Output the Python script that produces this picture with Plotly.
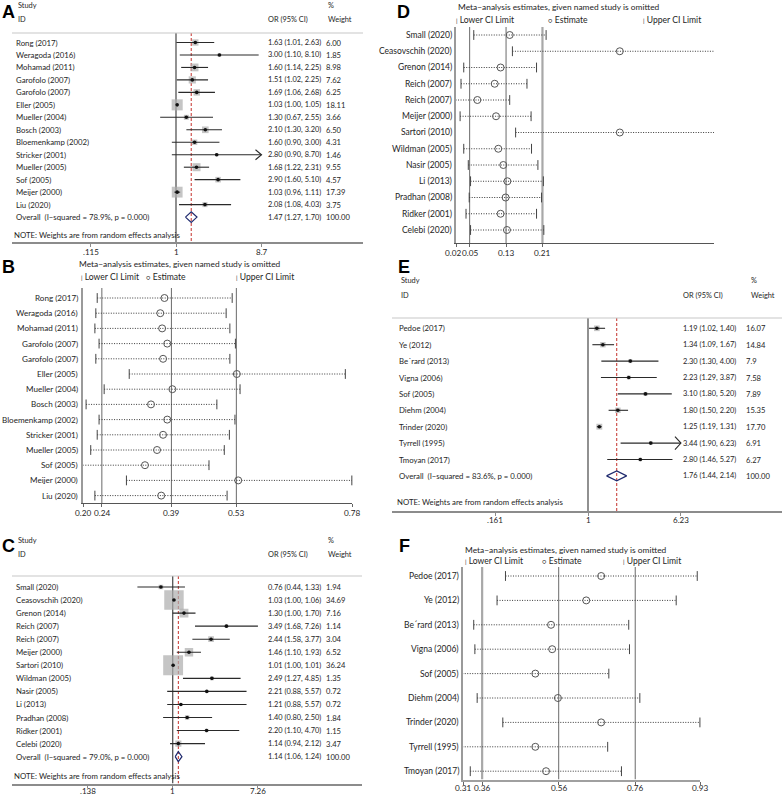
import numpy as np
import plotly.graph_objects as go

W, H = 784, 796
FONT = "Lato"

# ---------------- Panel A (forest) ----------------
A_names = ["Rong (2017)", "Weragoda (2016)", "Mohamad (2011)", "Garofolo (2007)", "Garofolo (2007)",
           "Eller (2005)", "Mueller (2004)", "Bosch (2003)", "Bloemenkamp (2002)", "Stricker (2001)",
           "Mueller (2005)", "Sof (2005)", "Meijer (2000)", "Liu (2020)"]
A_or = [1.63, 3.00, 1.60, 1.51, 1.69, 1.03, 1.30, 2.10, 1.60, 2.80, 1.68, 2.90, 1.03, 2.08]
A_lo = [1.01, 1.10, 1.14, 1.02, 1.06, 1.00, 0.67, 1.30, 0.90, 0.90, 1.22, 1.60, 0.96, 1.08]
A_hi = [2.63, 8.10, 2.25, 2.25, 2.68, 1.05, 2.55, 3.20, 3.00, 8.70, 2.31, 5.10, 1.11, 4.03]
A_w = [6.00, 1.85, 8.98, 7.62, 6.25, 18.11, 3.66, 6.50, 4.31, 1.46, 9.55, 4.57, 17.39, 3.75]
A_trunc = [False] * 9 + [True] + [False] * 4
A_overall = [1.47, 1.27, 1.70]
A_het = "Overall  (I\u2212squared = 78.9%, p = 0.000)"
A_ticks = [0.115, 1, 8.7]
A_ticktext = [".115", "1", "8.7"]

# ---------------- Panel C (forest) ----------------
C_names = ["Small (2020)", "Ceasovschih (2020)", "Grenon (2014)", "Reich (2007)", "Reich (2007)",
           "Meijer (2000)", "Sartori (2010)", "Wildman (2005)", "Nasir (2005)", "Li (2013)",
           "Pradhan (2008)", "Ridker (2001)", "Celebi (2020)"]
C_or = [0.76, 1.03, 1.30, 3.49, 2.44, 1.46, 1.01, 2.49, 2.21, 1.21, 1.40, 2.20, 1.14]
C_lo = [0.44, 1.00, 1.00, 1.68, 1.58, 1.10, 1.00, 1.27, 0.88, 0.88, 0.80, 1.10, 0.94]
C_hi = [1.33, 1.06, 1.70, 7.26, 3.77, 1.93, 1.01, 4.85, 5.57, 5.57, 2.50, 4.70, 2.12]
C_w = [1.94, 34.69, 7.16, 1.14, 3.04, 6.52, 36.24, 1.35, 0.72, 0.72, 1.84, 1.15, 3.47]
C_trunc = [False] * 13
C_overall = [1.14, 1.06, 1.24]
C_het = "Overall  (I\u2212squared = 79.0%, p = 0.000)"
C_ticks = [0.138, 1, 7.26]
C_ticktext = [".138", "1", "7.26"]

# ---------------- Panel E (forest) ----------------
E_names = ["Pedoe (2017)", "Ye (2012)", "Be\u00b4rard (2013)", "Vigna (2006)", "Sof (2005)",
           "Diehm (2004)", "Trinder (2020)", "Tyrrell (1995)", "Tmoyan (2017)"]
E_or = [1.19, 1.34, 2.30, 2.23, 3.10, 1.80, 1.25, 3.44, 2.80]
E_lo = [1.02, 1.09, 1.30, 1.29, 1.80, 1.50, 1.19, 1.90, 1.46]
E_hi = [1.40, 1.67, 4.00, 3.87, 5.20, 2.20, 1.31, 6.23, 5.27]
E_w = [16.07, 14.84, 7.90, 7.58, 7.89, 15.35, 17.70, 6.91, 6.27]
E_wtext = ["16.07", "14.84", "7.9", "7.58", "7.89", "15.35", "17.70", "6.91", "6.27"]
E_trunc = [False] * 7 + [True, False]
E_overall = [1.76, 1.44, 2.14]
E_het = "Overall  (I\u2212squared = 83.6%, p = 0.000)"
E_ticks = [0.161, 1, 6.23]
E_ticktext = [".161", "1", "6.23"]

# ---------------- Panel B (influence) ----------------
B_names = A_names
B_lo = [0.230, 0.227, 0.225, 0.234, 0.227, 0.299, 0.245, 0.206, 0.234, 0.230, 0.216, 0.199, 0.293, 0.225]
B_est = [0.375, 0.366, 0.370, 0.381, 0.372, 0.531, 0.392, 0.346, 0.381, 0.372, 0.359, 0.333, 0.534, 0.368]
B_hi = [0.521, 0.508, 0.516, 0.528, 0.516, 0.765, 0.538, 0.488, 0.527, 0.515, 0.504, 0.471, 0.779, 0.510]
B_ticks = [0.20, 0.24, 0.39, 0.53, 0.78]
B_ticktext = ["0.20", "0.24", "0.39", "0.53", "0.78"]
B_ref = [0.24, 0.39, 0.53]

# ---------------- Panel D (influence) ----------------
D_names = C_names
D_lo = [0.059, 0.144, 0.037, 0.031, 0.019, 0.029, 0.151, 0.037, 0.047, 0.052, 0.049, 0.042, 0.052]
D_est = [0.138, 0.380, 0.118, 0.105, 0.067, 0.108, 0.380, 0.113, 0.124, 0.133, 0.129, 0.118, 0.132]
D_hi = [0.218, 0.620, 0.197, 0.176, 0.138, 0.185, 0.620, 0.186, 0.200, 0.212, 0.208, 0.197, 0.213]
D_ticks = [0.02, 0.05, 0.13, 0.21]
D_ticktext = ["0.02", "0.05", "0.13", "0.21"]
D_ref = [0.05, 0.13, 0.21]

# ---------------- Panel F (influence) ----------------
F_names = E_names
F_lo = [0.421, 0.399, 0.338, 0.341, 0.308, 0.347, 0.414, 0.308, 0.329]
F_est = [0.671, 0.632, 0.540, 0.543, 0.499, 0.558, 0.671, 0.499, 0.527]
F_hi = [0.922, 0.867, 0.743, 0.745, 0.691, 0.772, 0.929, 0.688, 0.724]
F_ticks = [0.31, 0.36, 0.56, 0.76, 0.93]
F_ticktext = ["0.31", "0.36", "0.56", "0.76", "0.93"]
F_ref = [0.36, 0.56, 0.76]

TITLE = "Meta\u2212analysis estimates, given named study is omitted"
NOTE = "NOTE: Weights are from random effects analysis"

fig = go.Figure()
annotations = []
shapes = []
layout_axes = {}


def X(x):
    return x / W


def Y(y):
    return 1 - y / H


def names_for(n):
    return ("x" if n == 1 else f"x{n}", "y" if n == 1 else f"y{n}",
            "xaxis" if n == 1 else f"xaxis{n}", "yaxis" if n == 1 else f"yaxis{n}")


def txt(x, y, s, size=7.8, anchor="left", yref="paper", color="#1e1e1e", family=FONT):
    annotations.append(dict(x=X(x), y=(Y(y) if yref == "paper" else y), xref="paper", yref=yref,
                            text=s, showarrow=False, xanchor=anchor, yanchor="middle",
                            font=dict(size=size, color=color, family=family), borderpad=0))


def tick_labels(xa, xs, labels, ypx, size, shifts=None):
    for j, (v, s) in enumerate(zip(xs, labels)):
        annotations.append(dict(x=v, y=Y(ypx), xref=xa, yref="paper", text=s, showarrow=False,
                                xanchor="center", yanchor="middle",
                                xshift=(shifts[j] if shifts else 0),
                                font=dict(size=size, color="#1e1e1e", family=FONT), borderpad=0))


def forest(n, names, ors, lo, hi, w, wtext, trunc, overall, het, ticks, ticktext, L):
    xa, ya, xk, yk = names_for(n)
    xr = [(L["ax0"] - L["one"]) / L["ppd"], (L["ax1"] - L["one"]) / L["ppd"]]
    yr = [(L["bot"] - L["row0"]) / L["sp"], (L["top"] - L["row0"]) / L["sp"]]
    layout_axes[xk] = dict(type="log", range=xr, domain=[X(L["ax0"]), X(L["ax1"])], anchor=ya,
                           tickvals=ticks, showticklabels=False, showline=True, linecolor="#8c8c8c",
                           linewidth=1.6, ticks="outside", ticklen=3, tickcolor="#8c8c8c",
                           showgrid=False, zeroline=False)
    layout_axes[yk] = dict(range=yr, domain=[Y(L["bot"]), Y(L["top"])], anchor=xa, visible=False)
    # tick labels (log axis -> annotation x in log10 units)
    tick_labels(xa, list(np.log10(ticks)), ticktext, L["bot"] + L["toff"], 8)
    rows = np.arange(len(names))
    m = len(names)
    # null line and overall line
    fig.add_trace(go.Scatter(x=[1, 1], y=[yr[1], yr[0]], mode="lines", xaxis=xa, yaxis=ya,
                             line=dict(color="#555555", width=1.3), hoverinfo="skip"))
    fig.add_trace(go.Scatter(x=[overall[0]] * 2, y=[yr[1], yr[0]], mode="lines", xaxis=xa, yaxis=ya,
                             line=dict(color="#c4312b", width=1, dash="3px,2px"), hoverinfo="skip"))
    # boxes
    fig.add_trace(go.Scatter(x=ors, y=rows, mode="markers", xaxis=xa, yaxis=ya,
                             marker=dict(symbol="square", size=L["k"] * np.sqrt(np.array(w)),
                                         color="#acacac", line=dict(width=0)), hoverinfo="skip"))
    # CI lines
    cx, cy = [], []
    for i in rows:
        cx += [lo[i], hi[i], None]
        cy += [i, i, None]
    fig.add_trace(go.Scatter(x=cx, y=cy, mode="lines", xaxis=xa, yaxis=ya,
                             line=dict(color="#2a2a2a", width=1.1), hoverinfo="skip"))
    # arrows for truncated intervals
    f = 10 ** (6 / L["ppd"])
    for i in rows:
        if trunc[i]:
            fig.add_trace(go.Scatter(x=[hi[i] / f, hi[i], hi[i] / f], y=[i - 0.4, i, i + 0.4],
                                     mode="lines", xaxis=xa, yaxis=ya,
                                     line=dict(color="#2a2a2a", width=1.1), hoverinfo="skip"))
    # point estimates
    fig.add_trace(go.Scatter(x=ors, y=rows, mode="markers", xaxis=xa, yaxis=ya,
                             marker=dict(symbol="circle", size=3.6, color="#111111"), hoverinfo="skip"))
    # overall diamond
    h = L["dh"]
    fig.add_trace(go.Scatter(x=[overall[1], overall[0], overall[2], overall[0], overall[1]],
                             y=[m, m - h, m, m + h, m], mode="lines", xaxis=xa, yaxis=ya,
                             line=dict(color="#1f2a6e", width=1.2), hoverinfo="skip"))
    # text columns
    for i in rows:
        txt(L["name_x"], i, names[i], yref=ya)
        txt(L["or_x"], i, f"{ors[i]:.2f} ({lo[i]:.2f}, {hi[i]:.2f})", size=7.4, yref=ya)
        txt(L["w_x"], i, wtext[i] if wtext else f"{w[i]:.2f}", size=7.6, yref=ya)
    txt(L["name_x"], m, het, yref=ya)
    txt(L["or_x"], m, f"{overall[0]:.2f} ({overall[1]:.2f}, {overall[2]:.2f})", size=7.4, yref=ya)
    txt(L["w_x"], m, "100.00", size=7.6, yref=ya)
    # header
    txt(L["name_x"] + 2, L["hy1"], "Study", size=7.4)
    txt(L["name_x"] + 2, L["hy2"], "ID", size=7.4)
    txt(L["or_x"], L["hy2"], "OR (95% CI)", size=7.4)
    txt(L["wh_x"], L["hy1"], "%", size=7.4)
    txt(L["wh_x"], L["hy2"], "Weight", size=7.4)
    txt(L["name_x"] - 2, L["note_y"], NOTE, size=7.8)
    shapes.append(dict(type="line", xref="paper", yref="paper", x0=X(L["ax0"]), x1=X(L["ax1"]),
                       y0=Y(L["top"]), y1=Y(L["top"]), line=dict(color="#c8c8c8", width=1.2)))


def influence(n, names, lo, est, hi, ticks, ticktext, refs, thick, L):
    xa, ya, xk, yk = names_for(n)
    yr = [(L["bot"] - L["row0"]) / L["sp"], (L["top"] - L["row0"]) / L["sp"]]
    xmin, xmax = L["xr"]
    layout_axes[xk] = dict(range=[xmin, xmax], domain=[X(L["ax0"]), X(L["ax1"])], anchor=ya,
                           tickvals=ticks, showticklabels=False, showline=True, linecolor=L["xcol"],
                           linewidth=L["xlw"], ticks="outside", ticklen=3, tickcolor="#666666",
                           showgrid=False, zeroline=False)
    layout_axes[yk] = dict(range=yr, domain=[Y(L["bot"]), Y(L["top"])], anchor=xa, showline=True,
                           linecolor="#9a9a9a", linewidth=2, showticklabels=False, ticks="",
                           showgrid=False, zeroline=False)
    tick_labels(xa, ticks, ticktext, L["bot"] + L["toff"], 8.2, L.get("tshift"))
    rows = np.arange(len(names))
    for v in refs:
        is_thick = v in thick
        fig.add_trace(go.Scatter(x=[v, v], y=[yr[1], yr[0]], mode="lines", xaxis=xa, yaxis=ya,
                                 line=dict(color="#a8a8a8" if is_thick else "#6a6a6a",
                                           width=2.2 if is_thick else 1), hoverinfo="skip"))
    cx, cy = [], []
    for i in rows:
        cx += [lo[i], hi[i], None]
        cy += [i, i, None]
    fig.add_trace(go.Scatter(x=cx, y=cy, mode="lines", xaxis=xa, yaxis=ya,
                             line=dict(color="#3a3a3a", width=1, dash="1px,1.5px"), hoverinfo="skip"))
    capx, capy = [], []
    for i in rows:
        for v in (lo[i], hi[i]):
            if xmin <= v <= xmax:
                capx.append(v)
                capy.append(i)
    fig.add_trace(go.Scatter(x=capx, y=capy, mode="markers", xaxis=xa, yaxis=ya, cliponaxis=False,
                             marker=dict(symbol="line-ns-open", size=7, color="#444444",
                                         line=dict(color="#444444", width=1)), hoverinfo="skip"))
    fig.add_trace(go.Scatter(x=est, y=rows, mode="markers", xaxis=xa, yaxis=ya, cliponaxis=False,
                             marker=dict(symbol="circle-open", size=7, color="#555555",
                                         line=dict(color="#555555", width=1)), hoverinfo="skip"))
    for i in rows:
        txt(L["lab_x"], i, names[i], size=L["fs"], anchor="right", yref=ya)
    txt(L["title"][0], L["title"][1], TITLE, size=8.4)
    (l1, l2, l3) = L["leg"]
    txt(l1[0], l1[1], "<span style='font-size:6px'>|</span> Lower CI Limit", size=8.6)
    txt(l2[0], l2[1], "<span style='font-size:7px'>\u25cb</span> Estimate", size=8.6)
    txt(l3[0], l3[1], "<span style='font-size:6px'>|</span> Upper CI Limit", size=8.6)


LA = dict(ax0=12, ax1=363, one=176, ppd=91, row0=42.5, sp=12.47, top=33, bot=242, k=2.6, toff=10,
          name_x=15, or_x=267, w_x=325, wh_x=327, hy1=6, hy2=19, note_y=235, dh=0.42)
LC = dict(ax0=12, ax1=362, one=172.7, ppd=99, row0=587, sp=13.05, top=576, bot=783.5, k=3.3, toff=7.8,
          name_x=15, or_x=267, w_x=325, wh_x=327, hy1=540, hy2=554, note_y=776, dh=0.38)
LE = dict(ax0=392, ax1=782, one=588, ppd=117, row0=328.3, sp=16.4, top=318, bot=511, k=1.4, toff=9,
          name_x=398, or_x=682, w_x=745, wh_x=750, hy1=280, hy2=295, note_y=502, dh=0.3)

LB = dict(ax0=83.3, ax1=352.3, xr=[0.20, 0.78], row0=298, sp=15.2, top=288, bot=503, lab_x=79, toff=9.5,
          fs=8.1, title=(78, 264), leg=[(80, 277), (145, 277), (235, 277)], xcol="#555555", xlw=1)
LD = dict(ax0=456, ax1=714, xr=[0.02, 0.587], row0=35, sp=16.25, top=27, bot=243, lab_x=453, toff=9.5,
          fs=8.5, title=(457, 7), leg=[(455, 19.5), (547, 19.5), (642, 19.5)], xcol="#555555", xlw=1,
          tshift=[-3, 0, 0, 0])
LF = dict(ax0=463, ax1=700.3, xr=[0.31, 0.93], row0=576, sp=24.4, top=567, bot=779.5, lab_x=460, toff=8.5,
          fs=8.5, title=(463.7, 549.5), leg=[(463.7, 561), (541, 561), (622, 561)], xcol="#a0a0a0", xlw=2)

forest(1, A_names, A_or, A_lo, A_hi, A_w, None, A_trunc, A_overall, A_het, A_ticks, A_ticktext, LA)
influence(2, B_names, B_lo, B_est, B_hi, B_ticks, B_ticktext, B_ref, [], LB)
forest(3, C_names, C_or, C_lo, C_hi, C_w, None, C_trunc, C_overall, C_het, C_ticks, C_ticktext, LC)
influence(4, D_names, D_lo, D_est, D_hi, D_ticks, D_ticktext, D_ref, [0.21], LD)
forest(5, E_names, E_or, E_lo, E_hi, E_w, E_wtext, E_trunc, E_overall, E_het, E_ticks, E_ticktext, LE)
influence(6, F_names, F_lo, F_est, F_hi, F_ticks, F_ticktext, F_ref, [0.36], LF)

# panel letters
for letter, (lx, ly) in {"A": (0, 12), "B": (0, 267), "C": (0, 546), "D": (395, 12),
                         "E": (396, 267), "F": (397, 546)}.items():
    annotations.append(dict(x=X(lx), y=Y(ly), xref="paper", yref="paper", text=f"<b>{letter}</b>",
                            showarrow=False, xanchor="left", yanchor="middle",
                            font=dict(size=18, family="Liberation Sans", color="#000000")))

fig.update_layout(width=W, height=H, margin=dict(l=0, r=0, t=0, b=0), showlegend=False,
                  paper_bgcolor="white", plot_bgcolor="white", annotations=annotations,
                  shapes=shapes, **layout_axes)
fig.write_html("out.html", config={"displayModeBar": False},
               post_script="document.body.style.margin='0px';document.body.style.overflow='hidden';")
